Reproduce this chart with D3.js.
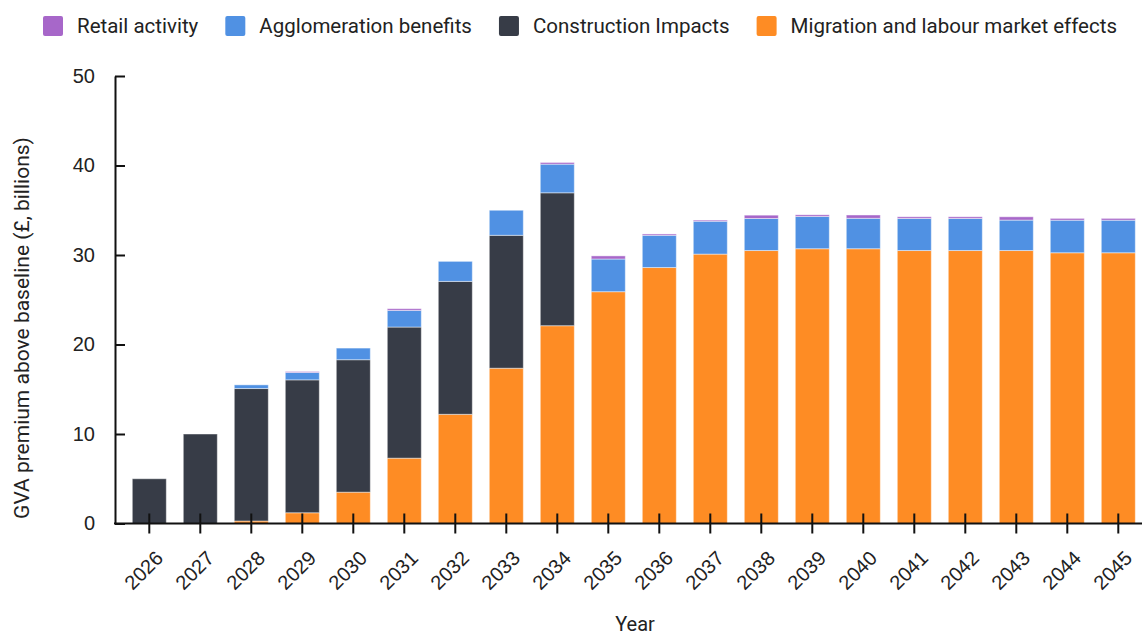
<!DOCTYPE html>
<html>
<head>
<meta charset="utf-8">
<script src="https://cdn.jsdelivr.net/npm/d3@7"></script>
<style>
  body { margin: 0; background: #fff; }
  svg { font-family: Roboto, "Noto Sans", sans-serif; }
</style>
</head>
<body>
<div id="chart"></div>
<script>
var width = 1142;
var height = 637;

// data (£ billions)
var years = ['2026','2027','2028','2029','2030','2031','2032','2033','2034','2035',
             '2036','2037','2038','2039','2040','2041','2042','2043','2044','2045'];
var migration    = [0, 0, 0.28, 1.2, 3.5, 7.3, 12.2, 17.35, 22.1, 25.9,
                    28.6, 30.1, 30.5, 30.7, 30.7, 30.5, 30.5, 30.5, 30.25, 30.25];
var construction = [5.0, 10.0, 14.8, 14.85, 14.8, 14.65, 14.85, 14.85, 14.85, 0,
                    0, 0, 0, 0, 0, 0, 0, 0, 0, 0];
var agglomeration = [0, 0, 0.41, 0.82, 1.3, 1.86, 2.24, 2.8, 3.2, 3.65,
                     3.6, 3.67, 3.58, 3.6, 3.4, 3.58, 3.58, 3.4, 3.64, 3.64];
var retail       = [0, 0, 0, 0.11, 0, 0.19, 0, 0, 0.19, 0.35,
                    0.15, 0.13, 0.37, 0.19, 0.37, 0.19, 0.19, 0.37, 0.2, 0.2];
var yTicks = [0, 10, 20, 30, 40, 50];

var seriesNames = ['Migration and labour market effects', 'Construction Impacts', 'Agglomeration benefits', 'Retail activity'];
var seriesColors = ['#fe8c24', '#373c47', '#5091e3', '#a767c9'];
var seriesValues = [migration, construction, agglomeration, retail];

// build rows for d3.stack
var rows = years.map(function(y, i) {
    var r = { year: y };
    seriesNames.forEach(function(n, k) { r[n] = seriesValues[k][i]; });
    return r;
});
var stacked = d3.stack().keys(seriesNames)(rows);

var svg = d3.select('#chart').append('svg')
    .attr('width', width)
    .attr('height', height);

var x = d3.scaleBand()
    .domain(years)
    .range([123.8, 1143.8])
    .paddingInner(0.333)
    .paddingOuter(0.1665);

var y = d3.scaleLinear()
    .domain([0, 50])
    .range([523.5, 76]);

// bars
svg.append('g')
    .selectAll('g')
    .data(stacked)
    .enter().append('g')
    .attr('fill', function(d, i) { return seriesColors[i]; })
    .selectAll('rect')
    .data(function(d) { return d; })
    .enter().append('rect')
    .filter(function(d) { return d[1] - d[0] > 0; })
    .attr('x', function(d) { return x(d.data.year); })
    .attr('width', x.bandwidth())
    .attr('y', function(d) { return y(d[1]); })
    .attr('height', function(d) { return y(d[0]) - y(d[1]); })
    .attr('stroke', '#fff')
    .attr('stroke-opacity', 0.45)
    .attr('stroke-width', 1);

// x axis
var xAxis = svg.append('g')
    .attr('transform', 'translate(0,523.5)')
    .call(d3.axisBottom(x).tickSizeInner(10).tickSizeOuter(0));
xAxis.select('.domain').remove();
xAxis.selectAll('.tick line')
    .attr('y1', -10)
    .attr('stroke', '#111')
    .attr('stroke-width', 2);
xAxis.selectAll('.tick text')
    .attr('font-size', 20)
    .attr('fill', '#222')
    .attr('text-anchor', 'end')
    .attr('dy', '0.35em')
    .attr('y', 0)
    .attr('transform', 'translate(10,31) rotate(-45)');

svg.append('line')
    .attr('x1', 114)
    .attr('x2', 1142)
    .attr('y1', 523.5)
    .attr('y2', 523.5)
    .attr('stroke', '#111')
    .attr('stroke-width', 2);

// y axis
var yAxis = svg.append('g')
    .attr('transform', 'translate(115,0)')
    .call(d3.axisLeft(y).tickValues(yTicks).tickSizeInner(10).tickSizeOuter(0).tickPadding(10));
yAxis.select('.domain')
    .attr('stroke', '#111')
    .attr('stroke-width', 2);
yAxis.selectAll('.tick line')
    .attr('x2', 10)
    .attr('stroke', '#111')
    .attr('stroke-width', 2);
yAxis.selectAll('.tick text')
    .attr('font-size', 20)
    .attr('fill', '#222');

// axis titles
svg.append('text')
    .attr('x', 635)
    .attr('y', 631)
    .attr('text-anchor', 'middle')
    .attr('font-size', 20)
    .attr('fill', '#222')
    .text('Year');

svg.append('text')
    .attr('transform', 'translate(29,328) rotate(-90)')
    .attr('text-anchor', 'middle')
    .attr('font-size', 21)
    .attr('fill', '#222')
    .text('GVA premium above baseline (£, billions)');

// legend, reversed order
var legend = svg.append('g');
var lx = 43;
[3, 2, 1, 0].forEach(function(k) {
    legend.append('rect')
        .attr('x', lx)
        .attr('y', 16)
        .attr('width', 20)
        .attr('height', 20)
        .attr('rx', 2)
        .attr('fill', seriesColors[k]);
    var t = legend.append('text')
        .attr('x', lx + 34)
        .attr('y', 26)
        .attr('dy', '0.35em')
        .attr('font-size', 20.5)
        .attr('fill', '#222')
        .text(seriesNames[k]);
    lx = lx + 34 + t.node().getComputedTextLength() + 27;
});
</script>
</body>
</html>
